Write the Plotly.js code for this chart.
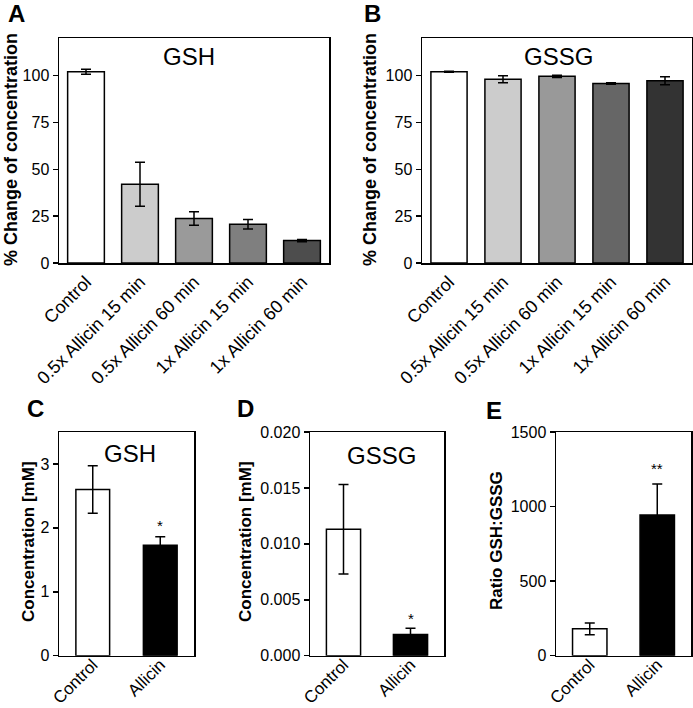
<!DOCTYPE html>
<html>
<head>
<meta charset="utf-8">
<script src="https://cdn.plot.ly/plotly-3.0.1.min.js"></script>
<style>html,body{margin:0;padding:0;background:#fff;}#chart{width:693px;height:708px;}</style>
</head>
<body>
<div id="chart"></div>
<script>
// ---- data ----
const catsTop = ["Control", "0.5x Allicin 15 min", "0.5x Allicin 60 min", "1x Allicin 15 min", "1x Allicin 60 min"];
const gshPct = [102, 42, 23.7, 20.7, 12];
const gshPctErr = [1.3, 11.7, 3.6, 2.5, 0.6];
const gssgPct = [102, 98, 99.6, 95.8, 97.2];
const gssgPctErr = [0.3, 1.9, 0.6, 0.4, 2.1];
const catsBottom = ["Control", "Allicin"];
const gshConc = [2.6, 1.73];
const gshConcErr = [0.37, 0.13];
const gssgConc = [0.0113, 0.0019];
const gssgConcErr = [0.004, 0.00055];
const ratio = [180, 943];
const ratioErr = [40, 208];
const colorsA = ["#ffffff", "#cccccc", "#9a9a9a", "#7f7f7f", "#4d4d4d"];
const colorsB = ["#ffffff", "#cccccc", "#999999", "#666666", "#333333"];
const colorsBottom = ["#ffffff", "#000000"];

const FONT = "Liberation Sans, Arial, Helvetica, sans-serif";
const W = 693, H = 708;
const px = v => v / W;
const py = v => 1 - v / H;

function bar(x, y, err, colors, width, xa, ya) {
  return {
    type: "bar", x: x, y: y, width: width, xaxis: xa, yaxis: ya,
    marker: {color: colors, line: {color: "#000", width: 1.5}},
    error_y: {type: "data", array: err, visible: true, color: "#000", thickness: 1.5, width: 5},
    showlegend: false, hoverinfo: "x+y"
  };
}

const data = [
  bar(catsTop, gshPct, gshPctErr, colorsA, 0.68, "x", "y"),
  bar(catsTop, gssgPct, gssgPctErr, colorsB, 0.67, "x2", "y2"),
  bar(catsBottom, gshConc, gshConcErr, colorsBottom, 0.5, "x3", "y3"),
  bar(catsBottom, gssgConc, gssgConcErr, colorsBottom, 0.51, "x4", "y4"),
  bar(catsBottom, ratio, ratioErr, colorsBottom, 0.51, "x5", "y5")
];

function xax(d, anchor, n, standoff, fs) {
  return {domain: d, anchor: anchor, type: "category", range: [-0.5, n - 0.5],
    showline: true, linecolor: "#000", linewidth: 1.5, mirror: true,
    ticks: "", tickangle: -45, showgrid: false, zeroline: false, ticklabelstandoff: standoff,
    tickfont: {family: FONT, size: fs, color: "#000"}, automargin: false, fixedrange: true};
}
function yax(d, anchor, range, dtick, fmt) {
  const o = {domain: d, anchor: anchor, range: range, dtick: dtick, tick0: 0,
    showline: true, linecolor: "#000", linewidth: 1.5, mirror: true,
    ticks: "outside", ticklen: 5, tickwidth: 1.5, tickcolor: "#000",
    showgrid: false, zeroline: false,
    tickfont: {family: FONT, size: 16, color: "#000"}, automargin: false, fixedrange: true};
  if (fmt) o.tickformat = fmt;
  return o;
}

const yTop = [py(263), py(38)];
const yBot = [py(655.7), py(432)];

const layout = {
  width: W, height: H,
  margin: {l: 0, r: 0, t: 0, b: 0},
  paper_bgcolor: "#fff", plot_bgcolor: "#fff",
  font: {family: FONT, color: "#000"},
  xaxis: xax([px(59), px(329)], "y", 5, 0, 18),
  yaxis: yax(yTop, "x", [0, 120], 25),
  xaxis2: xax([px(422), px(692)], "y2", 5, 0, 18),
  yaxis2: yax(yTop, "x2", [0, 120], 25),
  xaxis3: xax([px(59), px(194)], "y3", 2, -9, 17),
  yaxis3: yax(yBot, "x3", [0, 3.5], 1),
  xaxis4: xax([px(310), px(444)], "y4", 2, -9, 17),
  yaxis4: yax(yBot, "x4", [0, 0.02], 0.005, ".3f"),
  xaxis5: xax([px(556), px(691)], "y5", 2, -9, 17),
  yaxis5: yax(yBot, "x5", [0, 1500], 500),
  annotations: []
};

function ann(text, x, y, size, bold, angle) {
  layout.annotations.push({text: bold ? "<b>" + text + "</b>" : text, x: px(x), y: py(y),
    xref: "paper", yref: "paper", showarrow: false, xanchor: "center", yanchor: "middle",
    textangle: angle || 0, font: {family: FONT, size: size, color: "#000"}});
}
// panel letters
ann("A", 16, 14, 24, true);
ann("B", 373, 14, 24, true);
ann("C", 35, 408, 24, true);
ann("D", 245, 408, 24, true);
ann("E", 494, 410, 24, true);
// panel titles
ann("GSH", 189, 56, 24, false);
ann("GSSG", 558, 56, 24, false);
ann("GSH", 130, 453, 24, false);
ann("GSSG", 382, 455, 24, false);
// y-axis titles
ann("% Change of concentration", 11, 150, 18, true, -90);
ann("% Change of concentration", 370, 150, 18, true, -90);
ann("Concentration [mM]", 28, 542, 17, true, -90);
ann("Concentration [mM]", 245, 542, 17, true, -90);
ann("Ratio GSH:GSSG", 496, 541, 17, true, -90);
// significance stars
const stars = [
  {t: "*", xa: "x3", ya: "y3", x: "Allicin", y: 2.03},
  {t: "*", xa: "x4", ya: "y4", x: "Allicin", y: 0.0033},
  {t: "**", xa: "x5", ya: "y5", x: "Allicin", y: 1255}
];
stars.forEach(s => layout.annotations.push({text: s.t, x: s.x, y: s.y, xref: s.xa, yref: s.ya,
  showarrow: false, xanchor: "center", yanchor: "middle", font: {family: FONT, size: 15, color: "#000"}}));

Plotly.newPlot("chart", data, layout, {staticPlot: true, displayModeBar: false});
</script>
</body>
</html>
